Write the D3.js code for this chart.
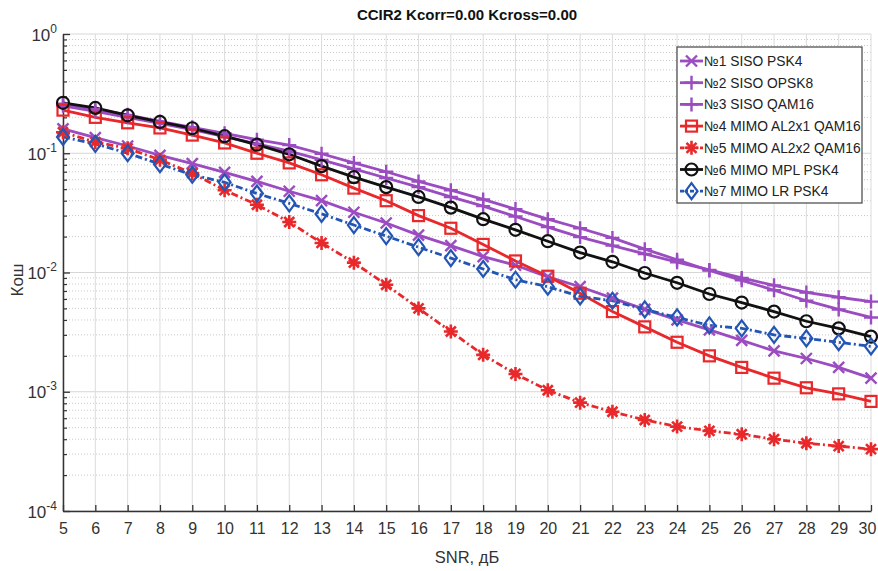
<!DOCTYPE html>
<html><head><meta charset="utf-8">
<script src="https://cdn.jsdelivr.net/npm/d3@7"></script>
<style>
body{margin:0;background:#fff;}
text{font-family:"Liberation Sans",Arial,sans-serif;}
</style></head>
<body><svg id="chart" width="878" height="571"></svg>
<script>
const snr = [5,6,7,8,9,10,11,12,13,14,15,16,17,18,19,20,21,22,23,24,25,26,27,28,29,30];
const s1 = [0.16,0.135,0.115,0.096,0.082,0.069,0.058,0.048,0.040,0.032,0.026,0.0206,0.0168,0.0136,0.0115,0.0092,0.0076,0.0061,0.0049,0.0040,0.0033,0.0027,0.0022,0.0019,0.0016,0.0013];
const s2 = [0.26,0.235,0.21,0.185,0.165,0.147,0.13,0.117,0.099,0.083,0.070,0.058,0.049,0.041,0.034,0.028,0.0235,0.0195,0.0157,0.0128,0.0104,0.0086,0.0071,0.0058,0.0049,0.0042];
const s3 = [0.25,0.225,0.20,0.178,0.158,0.138,0.12,0.104,0.088,0.074,0.062,0.052,0.043,0.036,0.0295,0.024,0.0198,0.0168,0.0143,0.0122,0.0105,0.0090,0.0078,0.0068,0.0062,0.0057];
const s4 = [0.23,0.20,0.18,0.163,0.142,0.122,0.10,0.083,0.066,0.051,0.040,0.030,0.0235,0.0172,0.0125,0.0093,0.0067,0.0047,0.0035,0.0026,0.0020,0.0016,0.0013,0.00108,0.00096,0.00083];
const s5 = [0.15,0.124,0.11,0.088,0.068,0.049,0.037,0.0265,0.0177,0.0121,0.0079,0.0050,0.0032,0.00204,0.00141,0.00103,0.00081,0.00068,0.00058,0.00051,0.00047,0.00044,0.00040,0.00037,0.00035,0.00033];
const s6 = [0.265,0.24,0.208,0.183,0.162,0.139,0.118,0.098,0.078,0.063,0.052,0.043,0.035,0.028,0.0228,0.0183,0.0147,0.0123,0.0099,0.0082,0.0066,0.0056,0.0047,0.0039,0.0034,0.0029];
const s7 = [0.137,0.12,0.10,0.081,0.066,0.057,0.046,0.038,0.031,0.025,0.0202,0.0163,0.0132,0.0107,0.0087,0.0076,0.0063,0.0058,0.0049,0.0042,0.0036,0.0034,0.0030,0.0028,0.0026,0.0024];
const seriesNames = ["№1 SISO PSK4","№2 SISO OPSK8","№3 SISO QAM16","№4 MIMO AL2x1 QAM16","№5 MIMO AL2x2 QAM16","№6 MIMO MPL PSK4","№7 MIMO LR PSK4"];
const seriesValues = [s1,s2,s3,s4,s5,s6,s7];
const xTicks = [5,6,7,8,9,10,11,12,13,14,15,16,17,18,19,20,21,22,23,24,25,26,27,28,29,30];
const yTickExps = [-4,-3,-2,-1,0];
const titleText = "CCIR2 Kcorr=0.00 Kcross=0.00";
const xLabel = "SNR, дБ";
const yLabel = "Кош";

const styles = [
  {color:"#9b4cc0", marker:"x", dash:null},
  {color:"#9b4cc0", marker:"plus", dash:null},
  {color:"#9b4cc0", marker:"plus", dash:null},
  {color:"#e8282b", marker:"square", dash:null},
  {color:"#e8282b", marker:"star", dash:"7,3,2,3"},
  {color:"#111111", marker:"circle", dash:null},
  {color:"#2356b4", marker:"diamond", dash:"7,3,2,3"}
];

const svg = d3.select("#chart");
const L=63, R=871, T=34, B=511;
const x = d3.scaleLinear().domain([5,30]).range([L,R]);
const y = d3.scaleLog().domain([1e-4,1]).range([B,T]);

// grid
const g = svg.append("g");
const minor = [];
for (let e=-4;e<0;e++) for (let k=2;k<=9;k++) minor.push(k*Math.pow(10,e));
g.selectAll(".ymin").data(minor).enter().append("line")
  .attr("x1",L).attr("x2",R).attr("y1",d=>y(d)).attr("y2",d=>y(d))
  .attr("stroke","#c8c8c8").attr("stroke-width",1).attr("stroke-dasharray","1,2");
g.selectAll(".ymaj").data(yTickExps).enter().append("line")
  .attr("x1",L).attr("x2",R).attr("y1",d=>y(Math.pow(10,d))).attr("y2",d=>y(Math.pow(10,d)))
  .attr("stroke","#d6d6d6").attr("stroke-width",1);
g.selectAll(".xmaj").data(xTicks).enter().append("line")
  .attr("y1",T).attr("y2",B).attr("x1",d=>x(d)).attr("x2",d=>x(d))
  .attr("stroke","#dcdcdc").attr("stroke-width",1);

// axes
const xAxis = d3.axisBottom(x).tickValues(xTicks).tickSizeInner(-6).tickSizeOuter(0).tickPadding(12).tickFormat(d3.format("d"));
const xg = svg.append("g").attr("transform",`translate(0,${B})`).call(xAxis);
xg.select(".domain").attr("stroke","#333").attr("stroke-width",1.5);
xg.selectAll(".tick line").attr("stroke","#333").attr("stroke-width",1.3);
xg.selectAll("text").attr("font-size",16).attr("fill","#333")
  .attr("dx",d=>d===30?-4:0);

const yAxisMin = d3.axisLeft(y).tickValues(minor).tickSizeInner(-4).tickSizeOuter(0).tickFormat("");
const ygm = svg.append("g").attr("transform",`translate(${L},0)`).call(yAxisMin);
ygm.select(".domain").remove();
ygm.selectAll(".tick line").attr("stroke","#333").attr("stroke-width",1.2);

const yAxis = d3.axisLeft(y).tickValues(yTickExps.map(e=>Math.pow(10,e))).tickSizeInner(-7).tickSizeOuter(0).tickPadding(8).tickFormat("");
const yg = svg.append("g").attr("transform",`translate(${L},0)`).call(yAxis);
yg.select(".domain").attr("stroke","#333").attr("stroke-width",1.5);
yg.selectAll(".tick line").attr("stroke","#333").attr("stroke-width",1.3);
yg.selectAll(".tick").append("text")
  .attr("x",-6).attr("y",6).attr("text-anchor","end").attr("fill","#333").attr("font-size",17)
  .each(function(d){
    const e = Math.round(Math.log10(d));
    const t = d3.select(this);
    t.append("tspan").text("10");
    t.append("tspan").attr("dy",-8).attr("font-size",12).text(String(e));
  });

// titles
svg.append("text").attr("x",467).attr("y",20).attr("text-anchor","middle")
  .attr("font-weight","bold").attr("font-size",15).attr("fill","#111").text(titleText);
svg.append("text").attr("x",467).attr("y",563).attr("text-anchor","middle")
  .attr("font-size",16.5).attr("fill","#333").text(xLabel);
svg.append("text").attr("transform","translate(23,280) rotate(-90)").attr("text-anchor","middle")
  .attr("font-size",17).attr("fill","#333").text(yLabel);

// markers
function drawMarker(sel, type, color, cx, cy){
  const gg = sel.append("g").attr("transform",`translate(${cx},${cy})`)
    .attr("stroke",color).attr("fill","none").attr("stroke-width",2.2);
  if (type==="circle") gg.append("circle").attr("r",6);
  else if (type==="square") gg.append("rect").attr("x",-5.5).attr("y",-5.5).attr("width",11).attr("height",11);
  else if (type==="diamond") gg.append("path").attr("d","M0,-8L6,0L0,8L-6,0Z");
  else if (type==="plus") gg.append("path").attr("d","M-7,0H7M0,-7V7").attr("stroke-width",2.4);
  else if (type==="x") gg.append("path").attr("d","M-5.5,-5.5L5.5,5.5M-5.5,5.5L5.5,-5.5").attr("stroke-width",2.4);
  else if (type==="star") gg.append("path").attr("d","M-7,0H7M0,-7V7M-5,-5L5,5M-5,5L5,-5").attr("stroke-width",2.6);
}

const line = d3.line().x((d,i)=>x(snr[i])).y(d=>y(d));
const plot = svg.append("g");
seriesValues.forEach((vals,k)=>{
  const st = styles[k];
  plot.append("path").datum(vals).attr("d",line).attr("fill","none")
    .attr("stroke",st.color).attr("stroke-width",2.8)
    .attr("stroke-dasharray",st.dash);
});
seriesValues.forEach((vals,k)=>{
  const st = styles[k];
  vals.forEach((v,i)=>drawMarker(plot, st.marker, st.color, x(snr[i]), y(v)));
});

// legend
const lg = svg.append("g");
lg.append("rect").attr("x",677).attr("y",47).attr("width",185).attr("height",156)
  .attr("fill","#fff").attr("stroke","#444").attr("stroke-width",1.2);
seriesNames.forEach((nm,k)=>{
  const st = styles[k];
  const yy = 61 + k*21.7;
  lg.append("line").attr("x1",680).attr("x2",703).attr("y1",yy).attr("y2",yy)
    .attr("stroke",st.color).attr("stroke-width",2.8).attr("stroke-dasharray",st.dash ? "4,2,2,2" : null);
  drawMarker(lg, st.marker, st.color, 691.5, yy);
  lg.append("text").attr("x",704).attr("y",yy+5).attr("font-size",13.8).attr("fill","#222").text(nm);
});
</script></body></html>
